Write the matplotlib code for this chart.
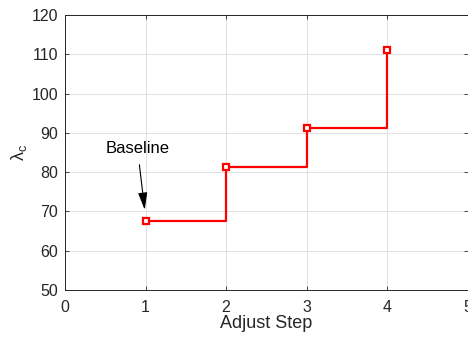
import matplotlib
matplotlib.use("Agg")
import matplotlib.pyplot as plt

steps = [1, 2, 3, 4]
lam_c = [67.5, 81.3, 91.2, 111.2]
x_ticks = [0, 1, 2, 3, 4, 5]
y_ticks = [50, 60, 70, 80, 90, 100, 110, 120]

plt.rcParams['font.family'] = ['Liberation Sans', 'DejaVu Sans']

fig = plt.figure(figsize=(4.68, 3.37), dpi=100)
ax = fig.add_axes([0.139, 0.1395, 0.860, 0.816])

ax.step(steps, lam_c, where='post', color='red', lw=1.6)
ax.plot(steps, lam_c, ls='none', marker='s', ms=4.2, mfc='white',
        mec='red', mew=1.6)

ax.set_xlim(0, 5)
ax.set_ylim(50, 120)
ax.set_xticks(x_ticks)
ax.set_yticks(y_ticks)
ax.grid(True, color='#e0e0e0', lw=0.7)
ax.set_axisbelow(True)
ax.tick_params(direction='in', top=True, right=True, labelsize=11.5,
               colors='#262626', length=3, width=0.6)
ax.tick_params(axis='x', pad=7)
ax.tick_params(axis='y', pad=5)
for s in ax.spines.values():
    s.set_color('#262626')
    s.set_linewidth(0.7)

ax.set_xlabel('Adjust Step', fontsize=13, color='#262626', labelpad=0)
ax.set_ylabel(r'$\mathregular{\lambda_c}$', fontsize=13, color='#262626', labelpad=2)

ax.annotate('Baseline', xy=(0.99, 70.4), xytext=(0.90, 85.9),
            ha='center', va='center', fontsize=12,
            arrowprops=dict(arrowstyle='-|>,head_length=0.75,head_width=0.2',
                            color='black', lw=0.8,
                            mutation_scale=14, shrinkA=4, shrinkB=0))

fig.savefig('out.png', dpi=100)
